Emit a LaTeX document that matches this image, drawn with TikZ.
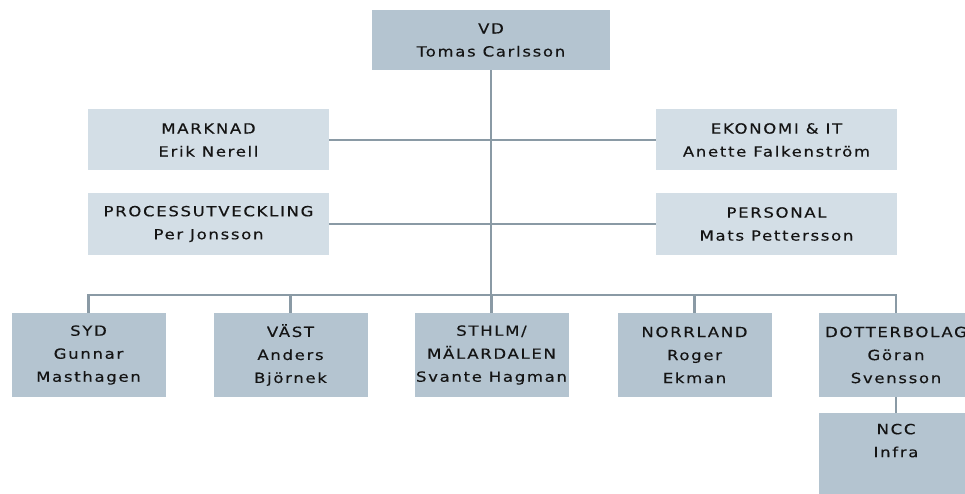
\documentclass[tikz,border=0pt]{standalone}
\usepackage{fontspec}
\setmainfont{DejaVu Sans}[FakeStretch=1.18, LetterSpace=12, FakeBold=0.3]
\definecolor{boxdark}{HTML}{B4C4D0}
\definecolor{boxlight}{HTML}{D3DEE6}
\definecolor{linegray}{HTML}{8A9AA5}
\definecolor{ink}{HTML}{141414}
\begin{document}
\begin{tikzpicture}[x=1pt,y=-1pt,
  unit/.style={rectangle, fill=boxdark, inner sep=0pt, align=center,
    text=ink, font=\fontsize{14}{23}\selectfont},
  staff/.style={unit, fill=boxlight, minimum width=241pt, minimum height=61pt},
  region/.style={unit, minimum width=154pt, minimum height=84pt},
  link/.style={draw=linegray, line width=2.4pt}]
\useasboundingbox (0,0) rectangle (965,494);
\fill[white] (0,0) rectangle (965,494);

% managing director
\node[unit, minimum width=238pt, minimum height=60pt] (vd) at (491,40) {VD\\Tomas Carlsson};

% staff functions
\node[staff] (marknad) at (208.5,140) {MARKNAD\\Erik Nerell};
\node[staff] (process) at (208.5,224) {PROCESSUTVECKLING\\Per Jonsson};
\node[staff] (ekonomi) at (776.5,140) {EKONOMI \& IT\\Anette Falkenström};
\node[staff] (personal) at (776.5,224) {PERSONAL\\Mats Pettersson};

% regions
\node[region] (syd) at (88.5,355) {SYD\\Gunnar\\Masthagen};
\node[region] (vast) at (290.5,355) {VÄST\\Anders\\Björnek};
\node[region] (sthlm) at (491.5,355) {STHLM/\\MÄLARDALEN\\Svante Hagman};
\node[region] (norr) at (694.5,355) {NORRLAND\\Roger\\Ekman};
\node[region] (dotter) at (896,355) {DOTTERBOLAG\\Göran\\Svensson};
\node[region, minimum height=100pt] (ncc) at (896,463) {NCC\\Infra\\[22pt]};

\coordinate (bus) at (491,295);

% connectors
\draw[link] (vd.south) -- (bus);
\draw[link] (marknad.east) -- (ekonomi.west);
\draw[link] (process.east) -- (personal.west);
\draw[link] (syd.north) |- (bus) -| (dotter.north);
\draw[link] (vast.north) -- (vast.north |- bus);
\draw[link] (sthlm.north) -- (sthlm.north |- bus);
\draw[link] (norr.north) -- (norr.north |- bus);
\draw[link] (dotter.south) -- (ncc.north);
\end{tikzpicture}
\end{document}
